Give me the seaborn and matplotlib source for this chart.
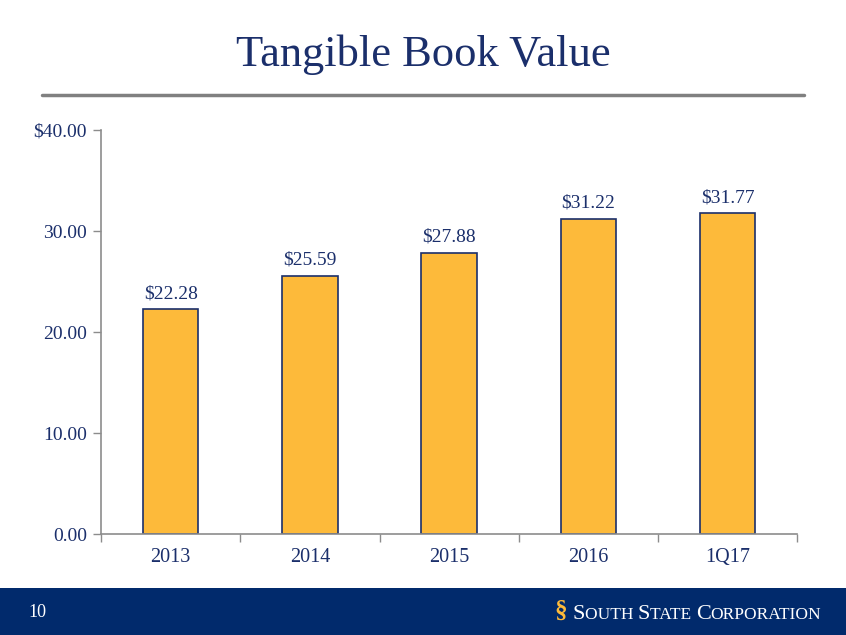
import matplotlib
matplotlib.use("Agg")
import matplotlib.pyplot as plt
import seaborn as sns
import pandas as pd
from matplotlib.ticker import FixedLocator, FuncFormatter

categories = ["2013", "2014", "2015", "2016", "1Q17"]
values = [22.28, 25.59, 27.88, 31.22, 31.77]
y_ticks = [0, 10, 20, 30, 40]

NAVY = "#1B2F6B"
BAR = "#FDBA3A"
FOOTER = "#012A6C"

sns.set_theme(style="white")
plt.rcParams["font.family"] = ["Liberation Serif", "DejaVu Serif"]

df = pd.DataFrame({"period": categories, "value": values})

fig = plt.figure(figsize=(8.46, 6.35), dpi=100)
ax = fig.add_axes([0.1194, 0.159, 0.823, 0.636])

sns.barplot(data=df, x="period", y="value", color=BAR, width=0.4,
            edgecolor=NAVY, linewidth=1.2, saturation=1, ax=ax)

# value labels above bars
for i, v in enumerate(values):
    ax.text(i, v + 0.7, f"${v:.2f}", ha="center", va="bottom",
            fontsize=14, color=NAVY)

ax.set_ylim(0, 40)
ax.set_xlim(-0.5, len(categories) - 0.5)
ax.yaxis.set_major_locator(FixedLocator(y_ticks))
ax.yaxis.set_major_formatter(FuncFormatter(
    lambda v, p: f"${v:.2f}" if v == 40 else f"{v:.2f}"))
ax.set_xlabel("")
ax.set_ylabel("")

# ticks sit on category boundaries, labels in the middle
ax.set_xticks([i - 0.5 for i in range(len(categories) + 1)], minor=False)
ax.set_xticklabels([""] * (len(categories) + 1))
ax.set_xticks(range(len(categories)), minor=True)
ax.set_xticklabels(categories, minor=True)
ax.tick_params(axis="x", which="major", direction="out", length=6,
               width=1, color="#8C8C8C", bottom=True)
ax.tick_params(axis="x", which="minor", length=0, labelsize=14.5,
               labelcolor=NAVY, pad=10)
ax.tick_params(axis="y", direction="out", length=6, width=1,
               color="#8C8C8C", left=True, labelsize=14,
               labelcolor=NAVY, pad=4)

for side in ["top", "right"]:
    ax.spines[side].set_visible(False)
for side in ["left", "bottom"]:
    ax.spines[side].set_color("#8C8C8C")
    ax.spines[side].set_linewidth(1.2)
ax.grid(False)

# title and rule
fig.text(0.5, 0.913, "Tangible Book Value", ha="center", va="center",
         fontsize=32, color=NAVY)
fig.add_artist(plt.Line2D([0.05, 0.95], [0.851, 0.851],
                          transform=fig.transFigure, color="#808080",
                          linewidth=2.5))

# footer band
fig.add_artist(plt.Rectangle((0, 0), 1, 47 / 635, transform=fig.transFigure,
                             facecolor=FOOTER, edgecolor="none"))
fig.text(0.033, 0.036, "10", ha="left", va="center", fontsize=13,
         color="white")
fig.text(0.663, 0.037, "§", ha="center", va="center", fontsize=18,
         color=BAR, fontweight="bold")

# small-caps company name built piece by piece
pieces = [("S", 16), ("OUTH ", 12.5), ("S", 16), ("TATE ", 12.5),
          ("C", 16), ("ORPORATION", 12.5)]
renderer = fig.canvas.get_renderer()
x = 0.677
for txt, size in pieces:
    t = fig.text(x, 0.025, txt, ha="left", va="baseline", fontsize=size,
                 color="white")
    bb = t.get_window_extent(renderer=renderer)
    x += bb.width / fig.bbox.width

fig.savefig("out.png", dpi=100)
plt.close(fig)
